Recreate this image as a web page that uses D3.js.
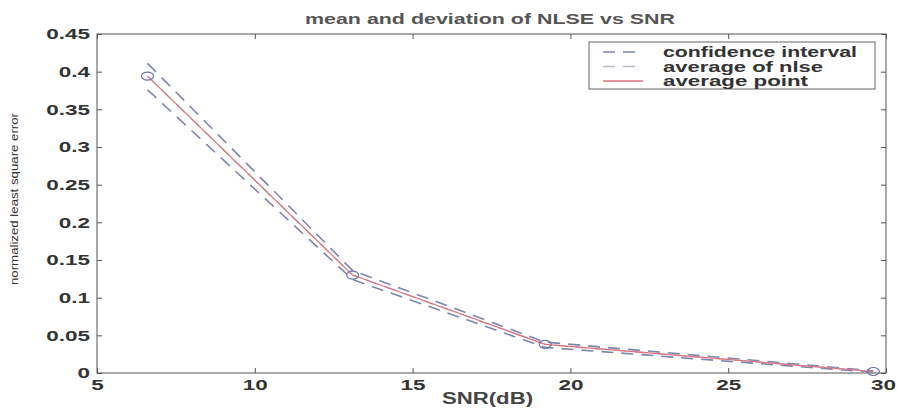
<!DOCTYPE html>
<html>
<head>
<meta charset="utf-8">
<script src="https://d3js.org/d3.v7.min.js"></script>
<style>
  body { margin: 0; background: #fff; }
  svg { font-family: "Liberation Sans", Arial, sans-serif; }
</style>
</head>
<body>
<div id="chart"></div>
<script>
// chart data
var snr = [6.6, 13.1, 19.2, 29.6];
var meanNlse = [0.394, 0.130, 0.038, 0.002];
var upperCi = [0.411, 0.136, 0.041, 0.003];
var lowerCi = [0.376, 0.124, 0.034, 0.001];
var xTicks = [5, 10, 15, 20, 25, 30];
var yTicks = [0, 0.05, 0.1, 0.15, 0.2, 0.25, 0.3, 0.35, 0.4, 0.45];
var legendNames = ["confidence interval", "average of nlse", "average point"];

var width = 897, height = 412;
var plotLeft = 97, plotRight = 886, plotTop = 34, plotBottom = 373;
var stretch = 1.5; // the original uses a wide bold face

var svg = d3.select("#chart").append("svg")
  .attr("width", width)
  .attr("height", height);

var x = d3.scaleLinear().domain([5, 30]).range([plotLeft, plotRight]);
var y = d3.scaleLinear().domain([0, 0.45]).range([plotBottom, plotTop]);

var axisColor = "#555";

// box
svg.append("rect")
  .attr("x", plotLeft).attr("y", plotTop)
  .attr("width", plotRight - plotLeft).attr("height", plotBottom - plotTop)
  .attr("fill", "none").attr("stroke", axisColor).attr("stroke-width", 1);

// axes with inward ticks
var gx = svg.append("g").attr("transform", "translate(0," + plotBottom + ")")
  .call(d3.axisBottom(x).tickValues(xTicks).tickSize(-5).tickFormat(d3.format("d")));
var gy = svg.append("g").attr("transform", "translate(" + plotLeft + ",0)")
  .call(d3.axisLeft(y).tickValues(yTicks).tickSize(-5).tickFormat(function(d) { return d === 0 ? "0" : String(+d.toFixed(2)); }));
var gxt = svg.append("g").attr("transform", "translate(0," + plotTop + ")")
  .call(d3.axisTop(x).tickValues(xTicks).tickSize(-5).tickFormat(""));
var gyr = svg.append("g").attr("transform", "translate(" + plotRight + ",0)")
  .call(d3.axisRight(y).tickValues(yTicks).tickSize(-5).tickFormat(""));

[gx, gy, gxt, gyr].forEach(function(g) {
  g.select(".domain").remove();
  g.selectAll("line").attr("stroke", axisColor);
  g.selectAll("text")
    .attr("fill", "#333")
    .attr("font-size", 15)
    .attr("font-weight", "bold")
    .attr("font-family", "\"Liberation Sans\", Arial, sans-serif")
    .attr("transform", "scale(" + stretch + ",1)");
});
gx.selectAll("text").attr("y", 17).attr("dy", 0)
  .attr("x", function(d) { return d === 30 ? -3 / stretch : 0; });
gy.selectAll("text").attr("x", -7 / stretch);

// lines
var line = d3.line()
  .x(function(d) { return x(d[0]); })
  .y(function(d) { return y(d[1]); });

function pairs(vals) { return snr.map(function(s, i) { return [s, vals[i]]; }); }

svg.append("path").datum(pairs(upperCi)).attr("d", line)
  .attr("fill", "none").attr("stroke", "#7d86ad").attr("stroke-width", 1.6).attr("stroke-dasharray", "12,8");
svg.append("path").datum(pairs(lowerCi)).attr("d", line)
  .attr("fill", "none").attr("stroke", "#7d86ad").attr("stroke-width", 1.6).attr("stroke-dasharray", "12,8");
svg.append("path").datum(pairs(meanNlse)).attr("d", line)
  .attr("fill", "none").attr("stroke", "#b5bccc").attr("stroke-width", 1.4).attr("stroke-dasharray", "12,8");
svg.append("path").datum(pairs(meanNlse)).attr("d", line)
  .attr("fill", "none").attr("stroke", "#e0707a").attr("stroke-width", 1.2);

svg.selectAll(".pt").data(pairs(meanNlse)).enter().append("ellipse")
  .attr("class", "pt")
  .attr("cx", function(d) { return x(d[0]); })
  .attr("cy", function(d) { return y(d[1]); })
  .attr("rx", 6).attr("ry", 4)
  .attr("fill", "none").attr("stroke", "#6f74a8").attr("stroke-width", 1.2);

// title and axis labels
svg.append("text").attr("x", 305).attr("y", 24)
  .attr("font-size", 15.5).attr("font-weight", "bold").attr("fill", "#555")
  .attr("textLength", 370).attr("lengthAdjust", "spacingAndGlyphs")
  .text("mean and deviation of NLSE vs SNR");
svg.append("text").attr("x", 442).attr("y", 404)
  .attr("font-size", 16).attr("font-weight", "bold").attr("fill", "#444")
  .attr("textLength", 91).attr("lengthAdjust", "spacingAndGlyphs")
  .text("SNR(dB)");
svg.append("text")
  .attr("transform", "translate(18,285) rotate(-90)")
  .attr("font-size", 11).attr("fill", "#333")
  .attr("textLength", 172).attr("lengthAdjust", "spacingAndGlyphs")
  .text("normalized least square error");

// legend
var lg = svg.append("g");
lg.append("rect").attr("x", 589).attr("y", 42).attr("width", 286).attr("height", 47)
  .attr("fill", "#fff").attr("stroke", "#666").attr("stroke-width", 1);
var legendStroke = ["#7d86ad", "#b5bccc", "#e0707a"];
var legendDash = ["12,8", "12,8", null];
var legendLen = [194, 160, 145];
legendNames.forEach(function(name, i) {
  var ly = 52 + i * 14.5;
  lg.append("line").attr("x1", 603).attr("x2", 643).attr("y1", ly).attr("y2", ly)
    .attr("stroke", legendStroke[i]).attr("stroke-width", 1.4)
    .attr("stroke-dasharray", legendDash[i]);
  lg.append("text").attr("x", 663).attr("y", ly + 5)
    .attr("font-size", 14.5).attr("font-weight", "bold").attr("fill", "#333")
    .attr("textLength", legendLen[i]).attr("lengthAdjust", "spacingAndGlyphs")
    .text(name);
});
</script>
</body>
</html>
